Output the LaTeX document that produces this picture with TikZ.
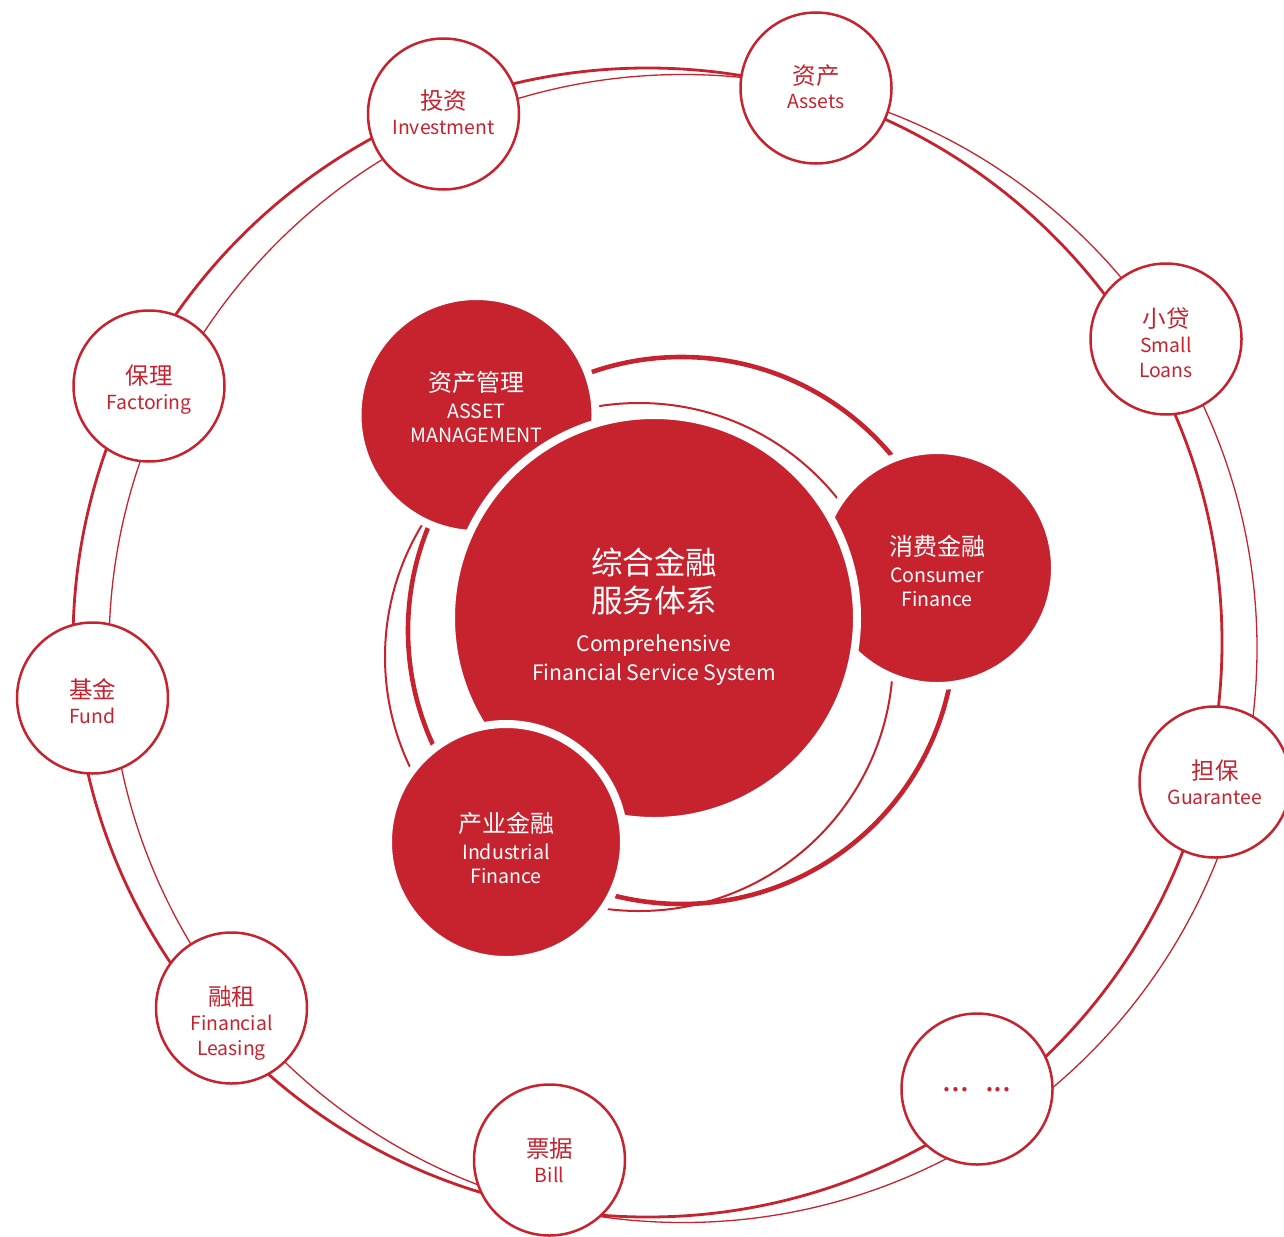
\documentclass[tikz,border=0pt]{standalone}
\usepackage{fontspec}
\setmainfont{Noto Sans CJK SC}
\definecolor{rosso}{RGB}{198,35,47}
\newcommand{\zh}[2][11.75]{{\fontsize{#1}{12.5}\selectfont #2}}
\tikzset{
    anello/.style={draw=rosso, line width=#1},
    piccolo/.style={circle, draw=rosso, fill=white, line width=1.25pt,
        minimum size=75.5pt, inner sep=0pt, align=center, text=rosso,
        font=\fontsize{9.7}{12.5}\selectfont},
    pieno/.style={circle, fill=rosso, draw=white, line width=4pt,
        inner sep=0pt, align=center, text=white,
        font=\fontsize{9.8}{12}\selectfont},
    testo/.style={text height=#1, text depth=0pt}
}
\begin{document}
\begin{tikzpicture}[x=0.5pt, y=-0.5pt]
        \useasboundingbox (0,0) rectangle (1284,1236);
        % Anelli esterni
        \draw[anello=1.4pt] (647.5,642.5) circle[radius=287.25pt];
        \draw[anello=0.65pt] (683,648.5) circle[radius=287pt];
        % Anelli interni
        \draw[anello=2.3pt] (681.5,630.5) circle[radius=136.75pt];
        \draw[anello=1pt] (639,657) circle[radius=127pt];
        % Cerchi pieni dietro al centro
        \node[pieno, testo=27pt, minimum size=119pt] (gestione) at (476.5,415)
            {\zh[12]{资产管理}\\[1.5pt]ASSET\\MANAGEMENT};
        \node[pieno, testo=38pt, minimum size=118pt] (consumo) at (937,568)
            {\zh[12]{消费金融}\\[1.5pt]Consumer\\Finance};
        % Cerchio centrale
        \node[pieno, testo=62pt, minimum size=203pt, font=\fontsize{10.6}{14.5}\selectfont] (sistema) at (654,618)
            {\zh[15.75]{综合金融}\\[3pt]\zh[15.75]{服务体系}\\[5pt]Comprehensive\\Financial Service System};
        \node[pieno, testo=41pt, minimum size=118pt] (industria) at (506,842)
            {\zh[12]{产业金融}\\[1.5pt]Industrial\\Finance};
        % Cerchi esterni
        \node[piccolo, testo=20pt] (investimento) at (443.5,114) {\zh{投资}\\Investment};
        \node[piccolo, testo=21pt] (attivi) at (816,88) {\zh{资产}\\Assets};
        \node[piccolo, testo=38pt] (prestiti) at (1166,339) {\zh{小贷}\\Small\\Loans};
        \node[piccolo, testo=22pt] (garanzia) at (1215,782) {\zh{担保}\\Guarantee};
        \node[piccolo, testo=2pt] (puntini) at (977,1089)
            {\fontsize{16}{16}\selectfont ...\hspace{0.5em}...};
        \node[piccolo, testo=22pt] (effetti) at (549.5,1160) {\zh{票据}\\Bill};
        \node[piccolo, testo=47pt] (leasing) at (231.5,1008) {\zh{融租}\\Financial\\Leasing};
        \node[piccolo, testo=25pt] (fondo) at (92.5,698) {\zh{基金}\\Fund};
        \node[piccolo, testo=23pt] (factoring) at (149,386) {\zh{保理}\\Factoring};
    \end{tikzpicture}
\end{document}
